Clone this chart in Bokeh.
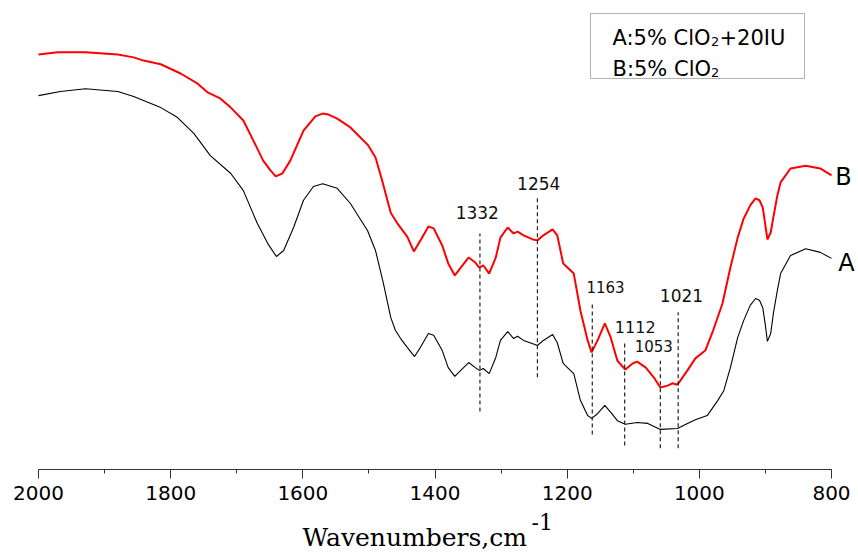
from bokeh.plotting import figure
from bokeh.models import Range1d, SingleIntervalTicker, Label, BoxAnnotation, LinearAxis
from bokeh.embed import file_html
from bokeh.resources import INLINE

# ---------------- data ----------------
# Curve A : 5% ClO2 + 20IU (black)
wn_A = [2000, 1967, 1929, 1880, 1856, 1815, 1790, 1765, 1740, 1709, 1690, 1669, 1653,
        1640, 1629, 1614, 1599, 1584, 1570, 1548, 1528, 1502, 1490, 1478, 1467, 1460,
        1452, 1442, 1431, 1422, 1410, 1402, 1389, 1380, 1370, 1361, 1349, 1339, 1333,
        1327, 1318, 1308, 1301, 1290, 1281, 1275, 1266, 1252, 1245, 1236, 1222, 1215,
        1206, 1198, 1190, 1180, 1169, 1163, 1154, 1143, 1134, 1124, 1112, 1094, 1078,
        1059, 1033, 1018, 1006, 988, 972, 963, 953, 942, 933, 923, 915, 909, 904, 900,
        897, 892, 888, 882, 877, 862, 839, 817, 800]
T_A = [81.1, 82.0, 82.6, 82.0, 80.9, 78.5, 76.4, 72.9, 68.1, 64.2, 60.5, 53.4, 49.0,
       46.2, 47.5, 52.5, 58.4, 61.4, 62.0, 61.0, 57.7, 51.8, 47.5, 40.3, 33.0, 30.2,
       28.4, 26.5, 24.5, 26.5, 29.5, 29.1, 25.8, 22.1, 20.2, 21.5, 23.2, 22.1, 21.5,
       21.9, 20.8, 24.3, 28.0, 29.9, 28.4, 28.9, 28.0, 27.3, 26.9, 28.0, 29.3, 27.5,
       23.0, 21.9, 20.8, 15.0, 11.7, 11.1, 12.1, 13.9, 12.4, 10.6, 9.8, 10.2, 10.0,
       8.7, 8.9, 10.0, 10.8, 11.7, 15.0, 17.1, 22.1, 28.6, 32.3, 35.6, 37.1, 36.7, 35.1, 31.2,
       27.8, 29.5, 33.8, 38.8, 42.5, 46.4, 47.9, 47.1, 45.8]

# Curve B : 5% ClO2 (red)
wn_B = [2000, 1971, 1929, 1880, 1856, 1841, 1815, 1785, 1759, 1744, 1725, 1709, 1690,
        1675, 1660, 1649, 1641, 1631, 1619, 1599, 1581, 1570, 1561, 1548, 1528, 1501,
        1490, 1480, 1467, 1457, 1442, 1432, 1422, 1410, 1402, 1389, 1380, 1370, 1361,
        1349, 1339, 1333, 1327, 1318, 1308, 1301, 1290, 1281, 1275, 1266, 1252, 1245,
        1236, 1222, 1215, 1206, 1198, 1190, 1180, 1169, 1163, 1154, 1143, 1134, 1124,
        1112, 1101, 1094, 1081, 1069, 1059, 1048, 1041, 1033, 1018, 1006, 991, 979, 965,
        953, 942, 933, 923, 915, 909, 904, 900, 897, 892, 888, 882, 877, 862, 839, 817, 800]
T_B = [90.0, 90.5, 90.5, 90.0, 89.4, 88.7, 87.9, 85.9, 83.7, 81.8, 80.5, 78.5, 75.7,
       71.4, 67.0, 64.9, 63.6, 64.2, 67.0, 73.5, 76.6, 77.2, 77.0, 76.1, 74.2, 70.3,
       67.7, 62.7, 55.7, 53.4, 50.5, 47.3, 49.7, 52.7, 52.3, 48.6, 44.7, 42.1, 43.8,
       46.0, 44.9, 43.8, 44.3, 42.5, 46.0, 50.3, 52.5, 51.2, 51.6, 50.8, 49.9, 49.7,
       50.8, 52.1, 50.8, 44.7, 43.6, 42.5, 34.5, 28.0, 25.4, 28.0, 31.7, 28.6, 23.6,
       21.7, 23.0, 23.4, 22.1, 20.0, 17.8, 18.2, 18.7, 18.4, 21.5, 24.1, 25.8, 30.2, 36.0,
       43.8, 50.3, 54.4, 57.3, 58.8, 58.4, 56.8, 52.9, 49.9, 51.4, 54.7, 59.4, 62.3, 65.3, 65.9, 65.3, 63.8]

# Marked peaks (label text, where the dashed line is drawn, its extent)
peak_labels = ["1332", "1254", "1163", "1112", "1053", "1021"]
peak_x = [1332, 1245, 1162, 1113, 1059, 1032]
peak_top = [51.2, 59.4, 36.0, 27.6, 23.6, 34.1]
peak_bottom = [12.6, 20.0, 7.6, 5.2, 4.6, 4.6]
peak_label_x = [1336, 1243, 1142, 1097, 1069, 1027]
peak_label_y = [55.7, 62.0, 39.5, 31.0, 26.7, 37.7]
peak_label_size = ["17px", "17px", "15px", "16px", "15px", "17px"]

x_ticks_interval = 200
x_start, x_end = 2000, 800
y_bottom, y_top = 0, 100

# ---------------- geometry (picture pixels) ----------------
W, H = 858, 556
FL, FR, FT, FB = 38, 831, 8, 469   # where the data area lies in the picture
kx = (x_start - x_end) / (FR - FL)
ky = (y_top - y_bottom) / (FB - FT)
xr = Range1d(x_start + FL * kx, x_start - (W - FL) * kx)
yr = Range1d(y_bottom - (H - FB) * ky, y_top + FT * ky)

p = figure(width=W, height=H, x_range=xr, y_range=yr,
           output_backend="svg", toolbar_location=None,
           x_axis_location=None, y_axis_location=None,
           min_border=0, min_border_left=0, min_border_right=0,
           min_border_top=0, min_border_bottom=0)
p.outline_line_color = None
p.grid.visible = False
p.background_fill_color = "white"
p.border_fill_color = "white"

ax = LinearAxis(fixed_location=y_bottom, bounds=(x_end, x_start))
ax.ticker = SingleIntervalTicker(interval=x_ticks_interval, num_minor_ticks=2)
ax.major_tick_in = 0
ax.major_tick_out = 9
ax.minor_tick_in = 0
ax.minor_tick_out = 4
ax.axis_line_color = "#333333"
ax.major_tick_line_color = "#333333"
ax.minor_tick_line_color = "#333333"
ax.major_label_text_font = "DejaVu Sans"
ax.major_label_text_font_size = "20px"
ax.major_label_text_color = "black"
ax.major_label_standoff = 7
p.add_layout(ax, "below")

# curves
p.line(wn_A, T_A, line_color="black", line_width=1.1)
p.line(wn_B, T_B, line_color="#ff0000", line_width=2)

# dashed peak markers
p.segment(x0=peak_x, x1=peak_x, y0=peak_bottom, y1=peak_top,
          line_color="#222222", line_width=1.2, line_dash="4 3")
for t, lx, ly, fs in zip(peak_labels, peak_label_x, peak_label_y, peak_label_size):
    p.add_layout(Label(x=lx, y=ly, text=t, text_align="center", text_baseline="middle",
                       text_font="DejaVu Sans", text_font_size=fs, text_color="#111111"))

# picture pixel -> screen units (frame covers the whole canvas)
def sx(px):
    return px

def sy(py):
    return H - py

# curve names at the right end
p.add_layout(Label(x=sx(843), y=sy(176), x_units="screen", y_units="screen", text="B",
                   text_align="center", text_baseline="middle",
                   text_font="DejaVu Sans", text_font_size="24px", text_color="black"))
p.add_layout(Label(x=sx(846), y=sy(262), x_units="screen", y_units="screen", text="A",
                   text_align="center", text_baseline="middle",
                   text_font="DejaVu Sans", text_font_size="24px", text_color="black"))

# legend box
p.add_layout(BoxAnnotation(left=sx(590), right=sx(804), top=sy(13), bottom=sy(78),
                           left_units="screen", right_units="screen",
                           top_units="screen", bottom_units="screen",
                           fill_color=None, fill_alpha=0, line_color="black", line_width=1))

def leg_text(x, y, text, size):
    p.add_layout(Label(x=x, y=y, x_units="screen", y_units="screen", text=text,
                       text_align="left", text_baseline="alphabetic",
                       text_font="DejaVu Sans", text_font_size=size, text_color="black"))

fs_leg = 21
w_main = 4.688 * fs_leg
leg_text(sx(612), sy(37), "A:5% ClO", f"{fs_leg}px")
leg_text(sx(612 + w_main), sy(41), "2", "13px")
leg_text(sx(612 + w_main + 8.5), sy(37), "+20IU", f"{fs_leg}px")
leg_text(sx(612), sy(68), "B:5% ClO", f"{fs_leg}px")
leg_text(sx(612 + w_main), sy(72), "2", "13px")

# axis title with superscript (kept clear of the bottom edge)
p.add_layout(Label(x=sx(302), y=sy(522), x_units="screen", y_units="screen",
                   text="Wavenumbers,cm", text_align="left", text_baseline="top",
                   text_font="DejaVu Serif", text_font_size="25px", text_color="black"))
p.add_layout(Label(x=sx(531), y=sy(513), x_units="screen", y_units="screen",
                   text="-1", text_align="left", text_baseline="top",
                   text_font="DejaVu Serif", text_font_size="22px", text_color="black"))

open("out.html", "w").write(file_html(p, INLINE))
